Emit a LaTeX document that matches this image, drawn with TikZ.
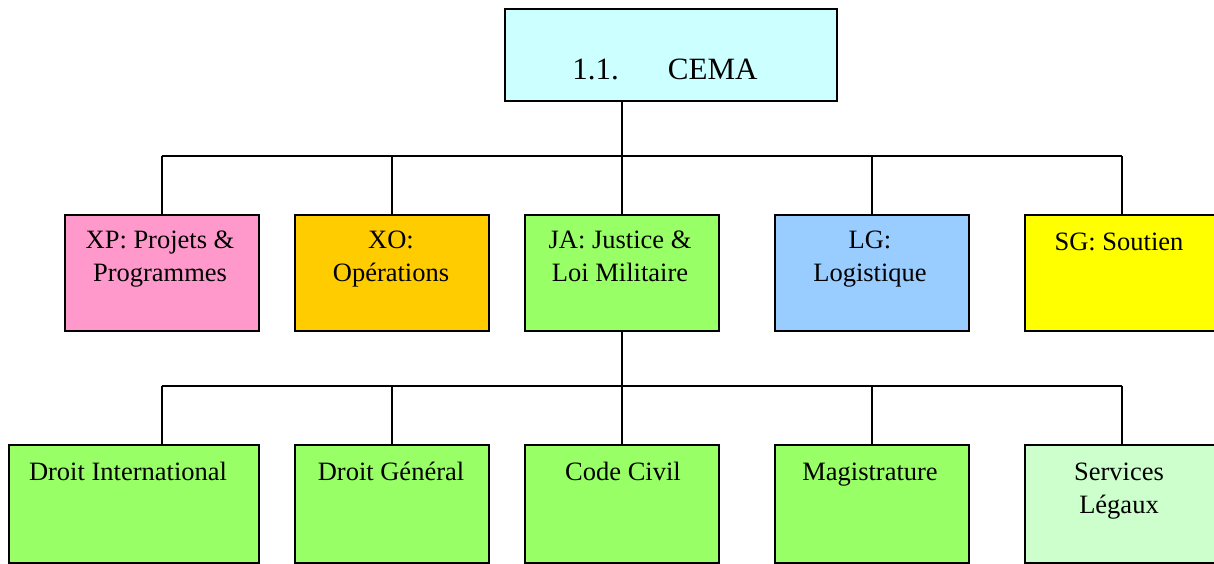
\documentclass[tikz,border=0pt]{standalone}
\usepackage{fontspec}
\setmainfont{Liberation Serif}
\definecolor{ccema}{HTML}{CCFFFF}
\definecolor{cxp}{HTML}{FF99CC}
\definecolor{cxo}{HTML}{FFCC00}
\definecolor{cja}{HTML}{99FF66}
\definecolor{clg}{HTML}{99CCFF}
\definecolor{csg}{HTML}{FFFF00}
\definecolor{csl}{HTML}{CCFFCC}
\begin{document}
\begin{tikzpicture}[x=1pt,y=-1pt,
  box/.style={draw=black, line width=1.8pt, rectangle, inner sep=0pt, anchor=north west, minimum width=194pt, minimum height=116pt},
  lbl/.style={anchor=base, align=center, inner sep=0pt, font=\fontsize{26.5}{32.5}\selectfont},
  conn/.style={draw=black, line width=1.5pt}]
\useasboundingbox (0,0) rectangle (1214,563);
% top
\node[box, fill=ccema, minimum width=332pt, minimum height=92pt] (cema) at (504,8) {};
\node[anchor=base, inner sep=0pt, font=\fontsize{31}{36}\selectfont] (tcema) at (665,79) {1.1.\hspace{49pt}CEMA};
% row 1
\node[box, fill=cxp] (xp) at (64,214) {};
\node[box, fill=cxo] (xo) at (294,214) {};
\node[box, fill=cja] (ja) at (524,214) {};
\node[box, fill=clg] (lg) at (774,214) {};
\node[box, fill=csg] (sg) at (1024,214) {};
% connectors
\coordinate (bus1) at (620,156);
\coordinate (bus2) at (620,386);
\draw[conn] (ja.north |- cema.south) -- (ja.north |- bus1);
\draw[conn] (xp.north |- bus1) -- (sg.north |- bus1);
\foreach \n in {xp,xo,ja,lg,sg} \draw[conn] (\n.north |- bus1) -- (\n.north);
% row 2
\node[box, fill=cja, minimum width=250pt, minimum height=118pt] (di) at (8,444) {};
\node[box, fill=cja, minimum height=118pt] (dg) at (294,444) {};
\node[box, fill=cja, minimum height=118pt] (cc) at (524,444) {};
\node[box, fill=cja, minimum height=118pt] (mg) at (774,444) {};
\node[box, fill=csl, minimum height=118pt] (sl) at (1024,444) {};
\draw[conn] (ja.south) -- (ja.south |- bus2);
\draw[conn] (xp.north |- bus2) -- (sl.north |- bus2);
\draw[conn] (xp.north |- bus2) -- (xp.north |- di.north);
\foreach \n in {dg,cc,mg,sl} \draw[conn] (\n.north |- bus2) -- (\n.north);
% labels (anchor base = last line)
\node[lbl] (txp) at (160,281) {XP: Projets \&\\Programmes};
\node[lbl] (txo) at (391,281) {XO:\\Opérations};
\node[lbl] (tja) at (620,281) {JA: Justice \&\\Loi Militaire};
\node[lbl] (tlg) at (870,281) {LG:\\Logistique};
\node[lbl] (tsg) at (1119,250) {SG: Soutien};
\node[lbl] (tdi) at (128,480) {Droit International};
\node[lbl] (tdg) at (391,480) {Droit Général};
\node[lbl] (tcc) at (623,480) {Code Civil};
\node[lbl] (tmg) at (870,480) {Magistrature};
\node[lbl] (tsl) at (1119,513) {Services\\Légaux};
\end{tikzpicture}
\end{document}
